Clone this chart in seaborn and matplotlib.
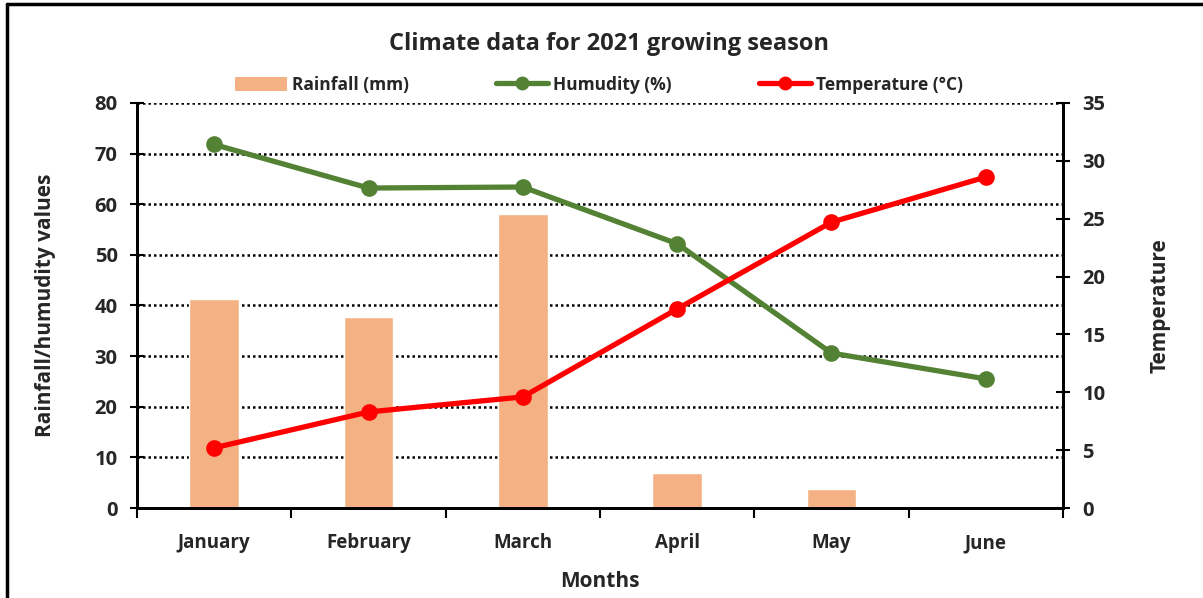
import numpy as np
import pandas as pd
import matplotlib
matplotlib.use("Agg")
import matplotlib.pyplot as plt
from matplotlib.lines import Line2D
from matplotlib.patches import Patch
from matplotlib.ticker import FixedLocator
import seaborn as sns

# data
months = ["January", "February", "March", "April", "May", "June"]
rainfall = [41.2, 37.7, 58.0, 7.0, 3.7, 0.0]
humidity = [71.8, 63.2, 63.4, 52.2, 30.6, 25.5]
temperature = [5.2, 8.3, 9.6, 17.2, 24.7, 28.6]

df = pd.DataFrame({"Month": months, "Rainfall": rainfall,
                   "Humidity": humidity, "Temperature": temperature})

sns.set_style("white")
plt.rcParams["font.family"] = ["Open Sans", "DejaVu Sans"]
plt.rcParams["font.weight"] = "bold"

bar_col = "#F4B183"
hum_col = "#548235"
temp_col = "#FF0000"

fig = plt.figure(figsize=(12.03, 5.98), dpi=100)
ax = fig.add_axes([0.1139, 0.1505, 0.7697, 0.6773])

sns.barplot(data=df, x="Month", y="Rainfall", color=bar_col, width=0.32,
            saturation=1, ax=ax, zorder=2)
x = np.arange(len(months))
sns.lineplot(x=x, y=humidity, color=hum_col, lw=3.8, marker="o",
             markersize=12, markeredgewidth=0, ax=ax, zorder=3)

ax2 = ax.twinx()
sns.lineplot(x=x, y=temperature, color=temp_col, lw=3.8, marker="o",
             markersize=12, markeredgewidth=0, ax=ax2, zorder=3)

ax.set_xlim(-0.5, 5.5)
ax.set_ylim(0, 80)
ax2.set_ylim(0, 35)
ax.set_yticks(np.arange(0, 81, 10))
ax2.set_yticks(np.arange(0, 36, 5))

# category ticks sit between months
ax.set_xticks(x)
ax.set_xticklabels(months)
ax.xaxis.set_minor_locator(FixedLocator(np.arange(-0.5, 6, 1)))
ax.tick_params(axis="x", which="major", length=0, pad=18, labelsize=13.5)
ax.tick_params(axis="x", which="minor", direction="out", length=7, width=1.5,
               color="black", bottom=True)
ax.tick_params(axis="y", direction="inout", length=10, width=1.5,
               color="black", left=True, labelsize=14.5, pad=9)
ax2.tick_params(axis="y", direction="inout", length=10, width=1.5,
                color="black", right=True, labelsize=14.5, pad=9)

ax.grid(axis="y", color="black", linestyle=(0, (1, 1.2)), lw=1.8, zorder=0)
ax.set_axisbelow(True)

for a in (ax, ax2):
    a.spines["top"].set_visible(False)
    for s in ("left", "right", "bottom"):
        a.spines[s].set_color("black")
        a.spines[s].set_linewidth(2)

ax.set_xlabel("Months", fontsize=15, fontweight="bold", labelpad=13)
ax.set_ylabel("Rainfall/humudity values", fontsize=15, fontweight="bold", labelpad=28)
ax2.set_ylabel("Temperature", fontsize=15, fontweight="bold", labelpad=32)

fig.text(0.506, 1 - 44 / 598, "Climate data for 2021 growing season",
         ha="center", va="center", fontsize=17, fontweight="bold")

handles = [
    Patch(facecolor=bar_col, edgecolor="none"),
    Line2D([], [], color=hum_col, lw=3.8, marker="o", markersize=10, markeredgewidth=0),
    Line2D([], [], color=temp_col, lw=3.8, marker="o", markersize=10, markeredgewidth=0),
]
labels = ["Rainfall (mm)", "Humudity (%)", "Temperature (\u00b0C)"]
fig.legend(handles, labels, loc="center", bbox_to_anchor=(0.498, 1 - 85 / 598),
           ncol=3, frameon=False, fontsize=12.5, handlelength=3.0,
           handleheight=0.9, handletextpad=0.3, columnspacing=5.0)

# frame of the cropped screenshot
fig.add_artist(Line2D([7 / 1203, 7 / 1203], [0, 1 - 4 / 598], color="black",
                      lw=2.5, transform=fig.transFigure))
fig.add_artist(Line2D([7 / 1203, 1], [1 - 4 / 598, 1 - 4 / 598], color="black",
                      lw=2.5, transform=fig.transFigure))

fig.savefig("out.png", dpi=100)
